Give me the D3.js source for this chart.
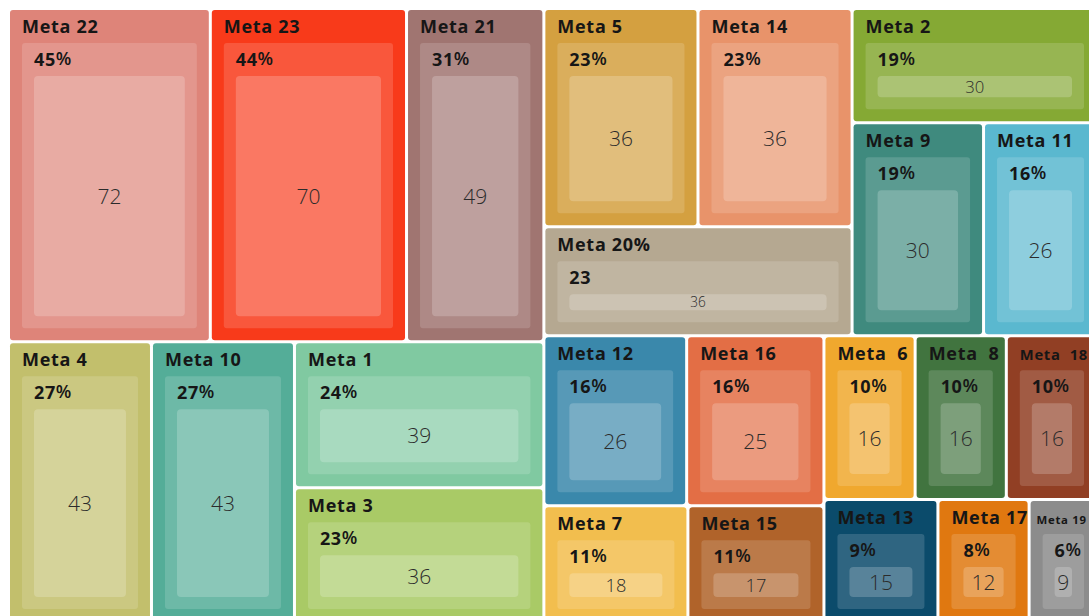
<!DOCTYPE html>
<html>
<head>
<meta charset="utf-8">
<script src="https://cdn.jsdelivr.net/npm/d3@7"></script>
<style>
  html, body { margin: 0; padding: 0; background: #fff; overflow: hidden; }
  svg { display: block; }
  .ttl { font-family: "Open Sans", "Noto Sans", sans-serif; font-weight: 700; fill: #161616; letter-spacing: 0.7px; white-space: pre; }
  .pct { font-family: "Open Sans", "Noto Sans", sans-serif; font-weight: 700; fill: #161616; letter-spacing: 0.6px; }
  .val { font-family: "Open Sans", "Noto Sans", sans-serif; font-weight: 300; fill: #2b2b2b; }
</style>
</head>
<body>
<svg id="chart" width="1089" height="616"></svg>
<script>
/* ── Data ─────────────────────────────────────────────── */
const NAMES  = ["Meta 22", "Meta 23", "Meta 21", "Meta 5", "Meta 14", "Meta 20%", "Meta 2", "Meta 9", "Meta 11",
                "Meta 4", "Meta 10", "Meta 1", "Meta 3", "Meta 12", "Meta 16", "Meta 7", "Meta 15",
                "Meta  6", "Meta  8", "Meta  18", "Meta 13", "Meta 17", "Meta 19"];
const VALUES = [72, 70, 49, 36, 36, 36, 30, 30, 26,
                43, 43, 39, 36, 26, 25, 18, 17,
                16, 16, 16, 15, 12, 9];
const PCTS   = ["45%", "44%", "31%", "23%", "23%", "23", "19%", "19%", "16%",
                "27%", "27%", "24%", "23%", "16%", "16%", "11%", "11%",
                "10%", "10%", "10%", "9%", "8%", "6%"];
const COLORS = ["#de8479", "#f83a1a", "#a07571", "#d4a040", "#e8936a", "#b5a891", "#85a934", "#3f8a7e", "#5ab8cf",
                "#c2bf6c", "#54ad98", "#80c9a1", "#a9ca66", "#3a88ab", "#e36e45", "#f2be4e", "#b0632a",
                "#f0a82e", "#41743f", "#913f24", "#0b4b6b", "#e07810", "#8c8c8c"];

/* nesting of the tiles: [direction, children]  h = side by side, v = stacked */
const NESTING = ["h", [
  ["v", [["h", [0, 1, 2]], ["h", [9, 10, ["v", [11, 12]]]]]],
  ["v", [
    ["h", [["v", [["h", [3, 4]], 5]], ["v", [6, ["h", [7, 8]]]]]],
    ["h", [["v", [["h", [13, 14]], ["h", [15, 16]]]], ["v", [["h", [17, 18, 19]], ["h", [20, 21, 22]]]]]]
  ]]
]];

/* ── Hierarchy ────────────────────────────────────────── */
function build(spec) {
  if (typeof spec === "number") {
    return { kind: "tile", i: spec, children: [
      { kind: "pct", i: spec, children: [ { kind: "val", i: spec, value: VALUES[spec] } ] }
    ] };
  }
  return { kind: "group", dir: spec[0], children: spec[1].map(build) };
}

const W = 1086, H = 611;
const OX = 10, OY = 10;
const VIEW_R = 1089 - OX - 2;   /* last visible x inside the group */
const isGroup = d => d.data.kind === "group";

const root = d3.hierarchy(build(NESTING)).sum(d => d.value || 0);

d3.treemap()
  .size([W, H])
  .tile((node, x0, y0, x1, y1) =>
    (node.data.dir === "v" ? d3.treemapSlice : d3.treemapDice)(node, x0, y0, x1, y1))
  .paddingInner(d => isGroup(d) ? 3 : 0)
  .paddingTop(d => isGroup(d) ? 0 : 33)
  .paddingLeft(d => isGroup(d) ? 0 : 12)
  .paddingRight(d => isGroup(d) ? 0 : 12)
  .paddingBottom(d => isGroup(d) ? 0 : 12)(root);

/* ── Render ───────────────────────────────────────────── */
const svg = d3.select("#chart");
const g = svg.append("g").attr("transform", `translate(${OX},${OY})`);

const nodes = root.descendants().filter(d => !isGroup(d));

g.selectAll("rect")
  .data(nodes)
  .join("rect")
  .attr("x", d => d.x0).attr("y", d => d.y0)
  .attr("width", d => Math.max(0, d.x1 - d.x0))
  .attr("height", d => Math.max(0, d.y1 - d.y0))
  .attr("rx", d => d.data.kind === "val" ? 4 : 3)
  .attr("fill", d => d.data.kind === "tile" ? COLORS[d.data.i] : "#fff")
  .attr("fill-opacity", d => d.data.kind === "tile" ? 1 : d.data.kind === "pct" ? 0.15 : 0.2);

/* titles — shrink when the text would run past the tile or the page */
nodes.filter(d => d.data.kind === "tile").forEach(d => {
  const t = g.append("text")
    .attr("class", "ttl")
    .attr("x", d.x0 + 12).attr("y", d.y0 + 23)
    .attr("font-size", 18)
    .text(NAMES[d.data.i]);
  const len = t.node().getComputedTextLength();
  const tileRoom = d.x1 - d.x0 - 12;
  const pageRoom = VIEW_R - d.x0 - 12;
  if (len > tileRoom * 1.25) {
    const x = d.x0 + 6, room = Math.min(d.x1, VIEW_R) - x - 2;
    t.attr("x", x).attr("font-size", Math.max(11, 18 * room / len));
  } else if (len > pageRoom) {
    t.attr("font-size", 18 * pageRoom / len);
  }
});

/* percentages */
nodes.filter(d => d.data.kind === "pct").forEach(d => {
  const m = PCTS[d.data.i].match(/^(\d+)(%?)$/);
  const t = g.append("text")
    .attr("class", "pct")
    .attr("x", d.x0 + 12).attr("y", d.y0 + 23)
    .attr("font-size", 18)
    .text(m[1]);
  if (m[2]) t.append("tspan").attr("font-weight", 600).attr("dy", -1).text(m[2]);
});

/* values */
nodes.filter(d => d.data.kind === "val").forEach(d => {
  const h = d.y1 - d.y0;
  const fs = Math.min(21, h * 0.6 + 4);
  g.append("text")
    .attr("class", "val")
    .attr("x", (d.x0 + d.x1) / 2).attr("y", (d.y0 + d.y1) / 2)
    .attr("dy", "0.36em")
    .attr("text-anchor", "middle")
    .attr("font-size", fs)
    .text(VALUES[d.data.i]);
});
</script>
</body>
</html>
